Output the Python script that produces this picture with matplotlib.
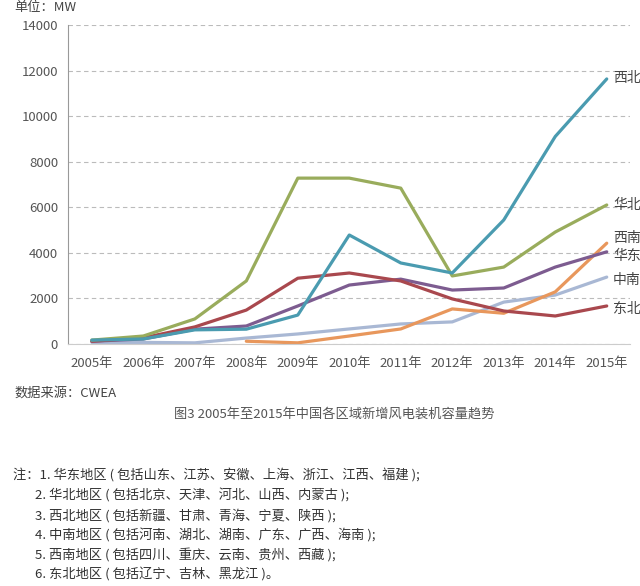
import matplotlib
matplotlib.use("Agg")
from matplotlib import pyplot as plt

plt.rcParams['font.family'] = ['Noto Sans CJK SC', 'DejaVu Sans']

years = [2005, 2006, 2007, 2008, 2009, 2010, 2011, 2012, 2013, 2014, 2015]
year_labels = [f"{y}年" for y in years]

# 新增装机容量 (MW)
xibei = [150, 200, 600, 630, 1250, 4770, 3540, 3100, 5430, 9100, 11630]
huabei = [150, 330, 1080, 2750, 7270, 7270, 6830, 2970, 3360, 4900, 6090]
dongbei = [100, 250, 730, 1470, 2870, 3100, 2750, 1960, 1430, 1210, 1650]
huadong = [100, 200, 630, 770, 1650, 2570, 2830, 2350, 2440, 3360, 4030]
xinan_years = [2008, 2009, 2010, 2011, 2012, 2013, 2014, 2015]
xinan = [100, 30, 330, 640, 1520, 1330, 2270, 4410]
zhongnan = [50, 50, 30, 240, 420, 640, 860, 950, 1820, 2130, 2920]

fig = plt.figure(figsize=(6.4, 5.86), dpi=100)
ax = fig.add_axes([0.106, 0.4138, 0.878, 0.5435])

lw = 2.3
ax.plot(years, zhongnan, color="#a9b8d4", lw=lw, solid_capstyle="round")
ax.plot(xinan_years, xinan, color="#e8975c", lw=lw, solid_capstyle="round")
ax.plot(years, huadong, color="#7d5c90", lw=lw, solid_capstyle="round")
ax.plot(years, dongbei, color="#a9484e", lw=lw, solid_capstyle="round")
ax.plot(years, huabei, color="#99ac5c", lw=lw, solid_capstyle="round")
ax.plot(years, xibei, color="#4a9bb0", lw=lw, solid_capstyle="round")

ax.set_xlim(2004.534, 2015.447)
ax.set_ylim(0, 14000)
ax.set_yticks(range(0, 14001, 2000))
ax.set_xticks(years)
ax.set_xticklabels(year_labels)
ax.tick_params(axis="both", length=0, labelsize=9.5, colors="#555555")
ax.tick_params(axis="x", pad=10)
ax.tick_params(axis="y", pad=7)
ax.yaxis.grid(True, linestyle=(0, (4, 3)), color="#bbbbbb", lw=0.8)
ax.set_axisbelow(True)
for s in ["top", "right"]:
    ax.spines[s].set_visible(False)
ax.spines["left"].set_color("#999999")
ax.spines["bottom"].set_color("#cccccc")

# region labels at the line ends
lab = {"西北": 11680, "华北": 6100, "西南": 4650, "华东": 3850, "中南": 2800, "东北": 1500}
for name, yv in lab.items():
    ax.text(2015.12, yv, name, fontsize=10, color="#444444", va="center", ha="left",
            clip_on=False)

fig.text(0.023, 1 - 8 / 586, "单位：MW", fontsize=9.5, color="#444444", va="center")
fig.text(0.023, 1 - 393 / 586, "数据来源：CWEA", fontsize=9.5, color="#444444", va="center")
fig.text(0.523, 1 - 415 / 586, "图3 2005年至2015年中国各区域新增风电装机容量趋势", fontsize=9.5,
         color="#555555", ha="center", va="center")

notes = [
    "注：1. 华东地区 ( 包括山东、江苏、安徽、上海、浙江、江西、福建 );",
    "2. 华北地区 ( 包括北京、天津、河北、山西、内蒙古 );",
    "3. 西北地区 ( 包括新疆、甘肃、青海、宁夏、陕西 );",
    "4. 中南地区 ( 包括河南、湖北、湖南、广东、广西、海南 );",
    "5. 西南地区 ( 包括四川、重庆、云南、贵州、西藏 );",
    "6. 东北地区 ( 包括辽宁、吉林、黑龙江 )。",
]
for i, line in enumerate(notes):
    x = 0.021 if i == 0 else 0.055
    fig.text(x, 1 - (476 + i * 19.8) / 586, line, fontsize=9.5, color="#333333",
             va="center")

fig.savefig("out.png", dpi=100)
